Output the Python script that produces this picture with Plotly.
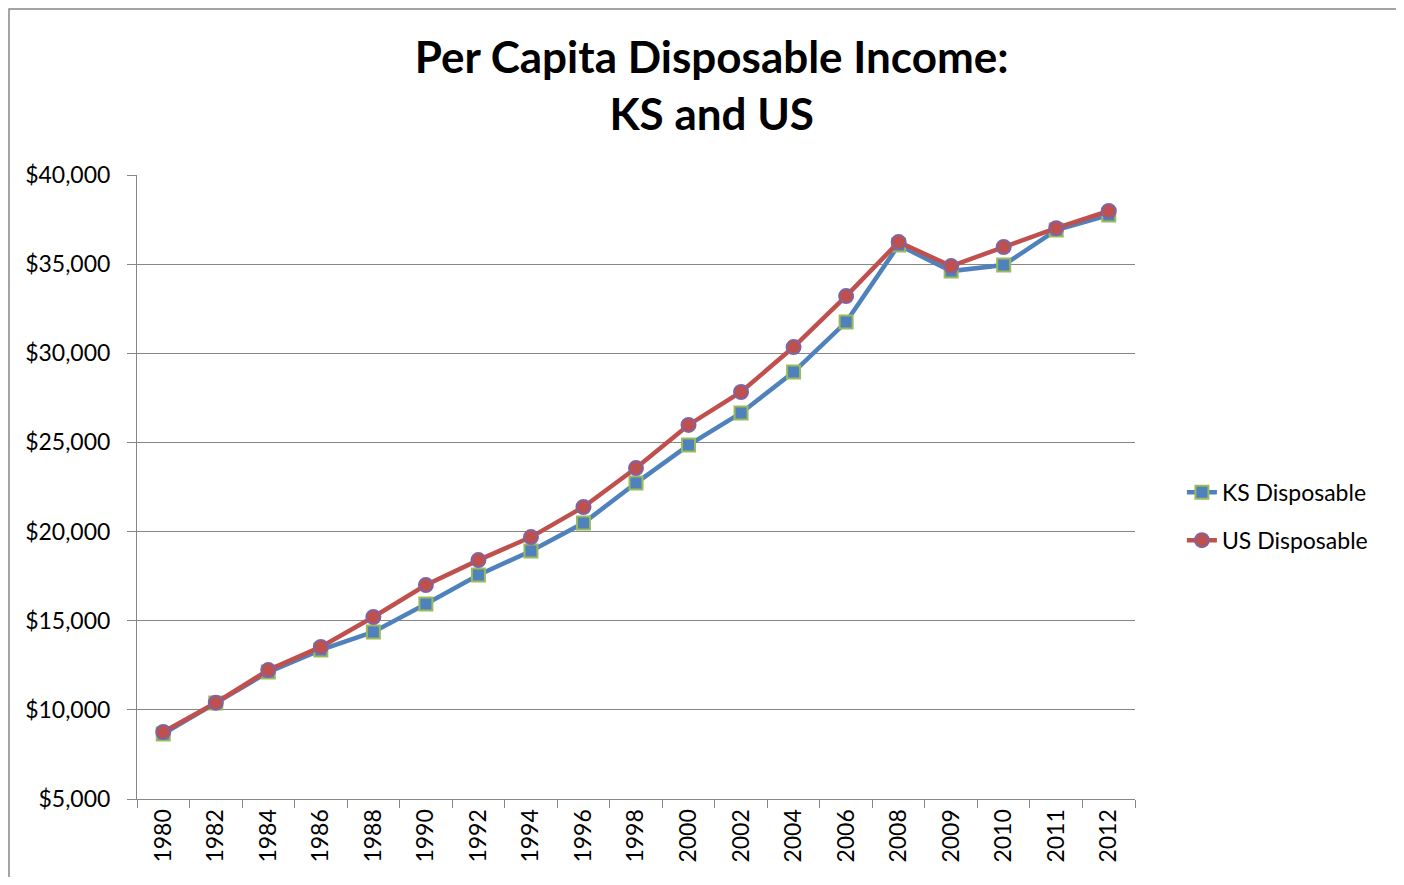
import plotly.graph_objects as go

years = ["1980", "1982", "1984", "1986", "1988", "1990", "1992", "1994", "1996", "1998",
         "2000", "2002", "2004", "2006", "2008", "2009", "2010", "2011", "2012"]
ks_disposable = [8650, 10380, 12120, 13360, 14370, 15940, 17560, 18910, 20480, 22720,
                 24850, 26650, 28950, 31750, 36070, 34610, 34950, 36910, 37750]
us_disposable = [8760, 10400, 12230, 13530, 15210, 17000, 18400, 19690, 21380, 23560,
                 25980, 27830, 30350, 33210, 36240, 34890, 35960, 37020, 37980]
y_ticks = [5000, 10000, 15000, 20000, 25000, 30000, 35000, 40000]
y_tick_labels = ["$5,000", "$10,000", "$15,000", "$20,000", "$25,000", "$30,000", "$35,000", "$40,000"]

FONT = "Lato, Noto Sans, sans-serif"

fig = go.Figure()
fig.add_trace(go.Scatter(
    x=years, y=ks_disposable, name="KS Disposable", mode="lines+markers",
    legendgroup="ks",
    line=dict(color="#4F81BD", width=4.5),
    marker=dict(symbol="square", size=13, color="#4F81BD", line=dict(color="#9BBB59", width=2)),
))
fig.add_trace(go.Scatter(
    x=years, y=us_disposable, name="US Disposable", mode="lines+markers",
    legendgroup="us",
    line=dict(color="#C0504D", width=4.5),
    marker=dict(symbol="circle", size=14, color="#C0504D", line=dict(color="#8064A2", width=2)),
))

fig.update_layout(
    width=1388, height=869,
    margin=dict(l=129, r=261, t=167, b=78),
    paper_bgcolor="white", plot_bgcolor="white",
    font=dict(family=FONT, color="black", size=23),
    title=dict(text="<b>Per Capita Disposable Income:<br>KS and US</b>",
               x=0.507, xanchor="center", y=0.925, yanchor="top",
               font=dict(family=FONT, size=44, color="black")),
    legend=dict(x=1.047, xanchor="left", y=0.453, yanchor="middle",
                font=dict(size=23, family=FONT), tracegroupgap=15,
                bgcolor="rgba(0,0,0,0)"),
    showlegend=True,
)
fig.update_xaxes(
    type="category", range=[-0.5, 18.5], tickangle=-90, tickson="boundaries",
    ticks="outside", ticklen=8,
    tickcolor="#868686", showline=True, linecolor="#868686", linewidth=1,
    showgrid=False, tickfont=dict(size=23, family=FONT),
)
fig.update_yaxes(
    range=[5000, 40000], tickvals=y_ticks, ticktext=y_tick_labels,
    ticks="outside", ticklen=9, tickcolor="#868686", ticklabelstandoff=12,
    showline=True, linecolor="#868686", linewidth=1,
    showgrid=True, gridcolor="#868686", gridwidth=1, zeroline=False,
    tickfont=dict(size=23, family=FONT),
)
fig.add_shape(type="rect", xref="paper", yref="paper",
              x0=-128 / 998, x1=1.5, y0=-0.5, y1=1 + 166 / 624,
              line=dict(color="#868686", width=1.5), layer="below")

fig.write_html("out.html")
